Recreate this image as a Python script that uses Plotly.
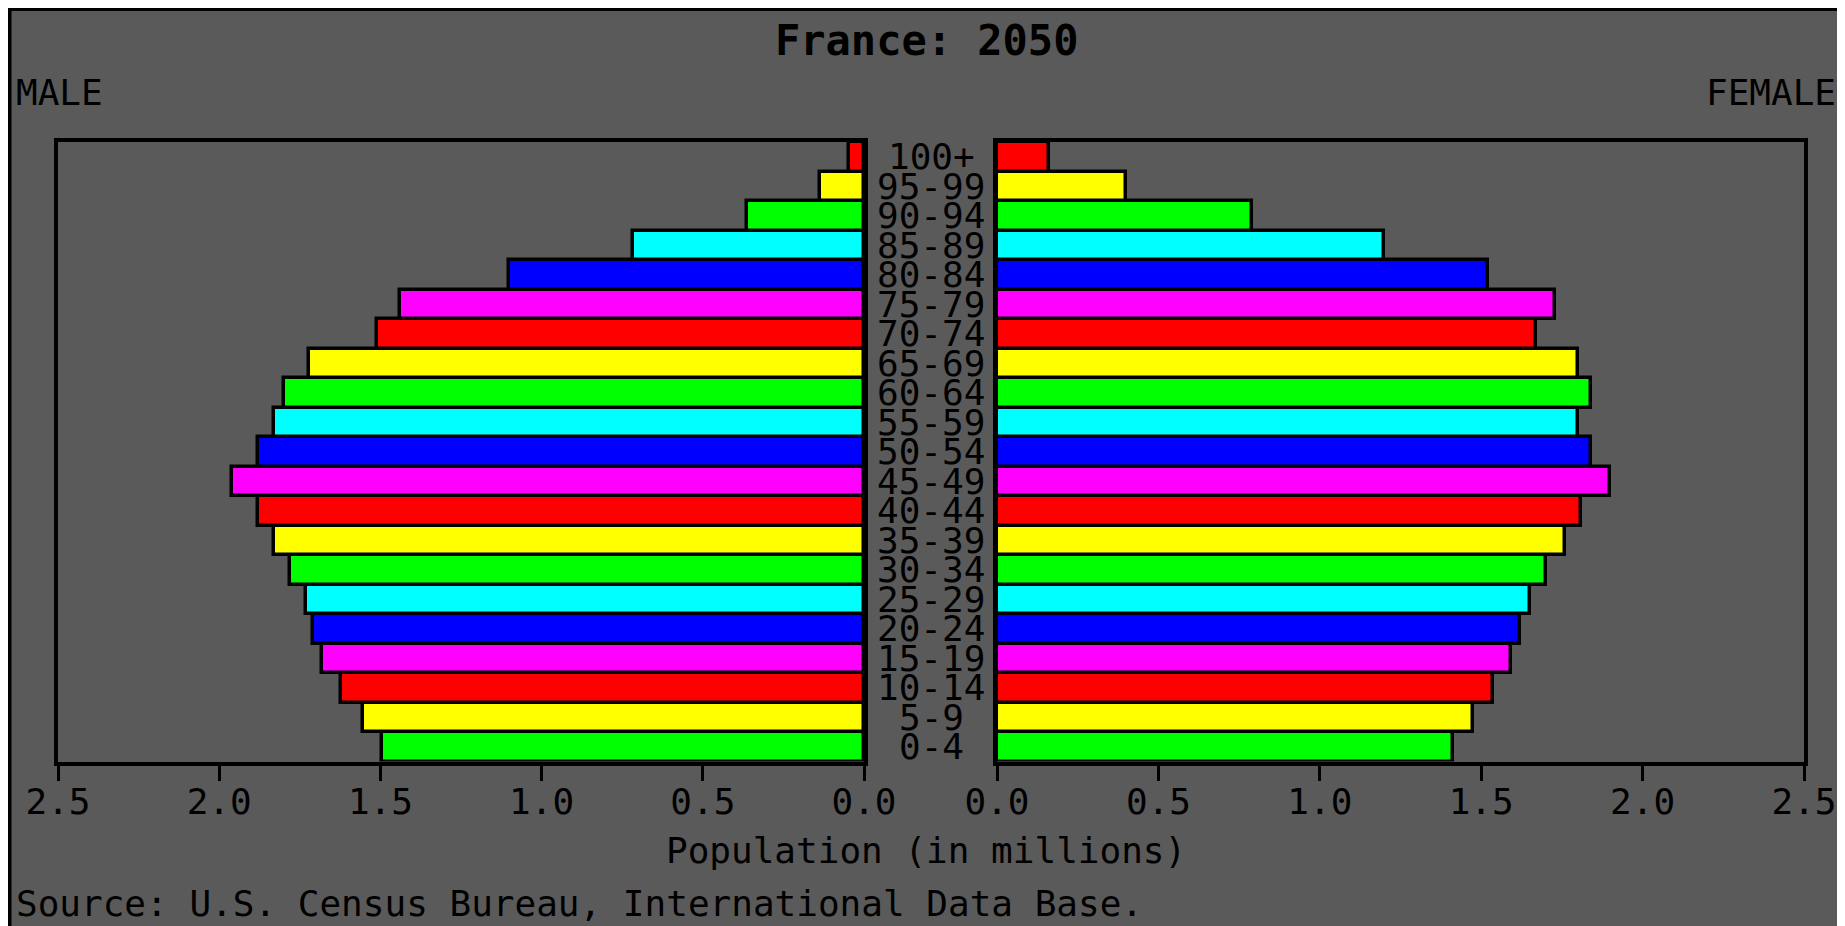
import plotly.graph_objects as go

age_groups = ["0-4", "5-9", "10-14", "15-19", "20-24", "25-29", "30-34", "35-39",
              "40-44", "45-49", "50-54", "55-59", "60-64", "65-69", "70-74", "75-79",
              "80-84", "85-89", "90-94", "95-99", "100+"]
male = [1.495, 1.553, 1.622, 1.681, 1.71, 1.73, 1.78, 1.83, 1.88, 1.96, 1.88,
        1.83, 1.80, 1.72, 1.51, 1.44, 1.10, 0.718, 0.364, 0.138, 0.047]
female = [1.414, 1.476, 1.535, 1.591, 1.62, 1.65, 1.70, 1.76, 1.81, 1.90, 1.84,
          1.80, 1.84, 1.80, 1.67, 1.73, 1.52, 1.20, 0.79, 0.40, 0.16]
bar_colors = ["#00ff00", "#ffff00", "#ff0000", "#ff00ff", "#0000ff", "#00ffff"] * 4 \
    + ["#00ff00", "#ffff00", "#ff0000"]
tick_vals = [0.0, 0.5, 1.0, 1.5, 2.0, 2.5]
tick_text = ["0.0", "0.5", "1.0", "1.5", "2.0", "2.5"]

W, H = 1837, 918
BG = "#5a5a5a"
FONT = "DejaVu Sans Mono"

def px_x(v):
    return v / W

def px_y(v):
    return 1 - v / H

fig = go.Figure()
fig.add_trace(go.Bar(y=age_groups, x=male, orientation="h", xaxis="x", yaxis="y",
                     marker=dict(color=bar_colors, line=dict(color="black", width=3.5)),
                     showlegend=False, hoverinfo="skip"))
fig.add_trace(go.Bar(y=age_groups, x=female, orientation="h", xaxis="x2", yaxis="y2",
                     marker=dict(color=bar_colors, line=dict(color="black", width=3.5)),
                     showlegend=False, hoverinfo="skip"))

axis_common = dict(showgrid=False, zeroline=False, showline=True, linecolor="black",
                   linewidth=4, mirror=True, automargin=False)
xcommon = dict(axis_common, ticks="outside", ticklen=15, tickwidth=3, tickcolor="black",
               tickvals=tick_vals, ticktext=tick_text, ticklabelstandoff=-10,
               tickfont=dict(family=FONT, size=36, color="black"))
ydom = [px_y(753.5), px_y(134)]

fig.update_layout(
    width=W, height=H,
    margin=dict(l=0, r=0, t=0, b=0, pad=0, autoexpand=False),
    paper_bgcolor=BG, plot_bgcolor=BG,
    bargap=0, barmode="overlay",
    xaxis=dict(xcommon, domain=[px_x(50), px_x(856)], range=[2.5, 0], anchor="y"),
    xaxis2=dict(xcommon, domain=[px_x(989), px_x(1796)], range=[0, 2.5], anchor="y2"),
    yaxis=dict(axis_common, domain=ydom, anchor="x", showticklabels=False, ticks="",
               type="category", categoryorder="array", categoryarray=age_groups,
               range=[-0.5, 20.5]),
    yaxis2=dict(axis_common, domain=ydom, anchor="x2", showticklabels=False, ticks="",
                type="category", categoryorder="array", categoryarray=age_groups,
                range=[-0.5, 20.5]),
    shapes=[
        dict(type="line", xref="paper", yref="paper", x0=0, x1=1, y0=px_y(1), y1=px_y(1),
             line=dict(color="black", width=4)),
        dict(type="line", xref="paper", yref="paper", x0=px_x(1.5), x1=px_x(1.5), y0=0, y1=1,
             line=dict(color="black", width=4)),
    ],
)

ann = [
    dict(text="<b>France: 2050</b>", x=0.5, y=px_y(33), font=dict(size=42),
         xanchor="center", yanchor="middle"),
    dict(text="MALE", x=px_x(6), y=px_y(84), xanchor="left", yanchor="middle"),
    dict(text="FEMALE", x=px_x(1830), y=px_y(84), xanchor="right", yanchor="middle"),
    dict(text="Population (in millions)", x=px_x(918), y=px_y(842),
         xanchor="center", yanchor="middle"),
    dict(text="Source: U.S. Census Bureau, International Data Base.", x=px_x(6),
         y=px_y(895), xanchor="left", yanchor="middle"),
]
for a in ann:
    a.setdefault("font", {})
    a["font"] = dict(dict(family=FONT, size=36, color="black"), **a["font"])
    fig.add_annotation(xref="paper", yref="paper", showarrow=False, **a)

for g in age_groups:
    fig.add_annotation(text=g, x=px_x(923), xref="paper", y=g, yref="y",
                       xanchor="center", yanchor="middle", showarrow=False,
                       font=dict(family=FONT, size=36, color="black"))

fig.write_html("out.html")
